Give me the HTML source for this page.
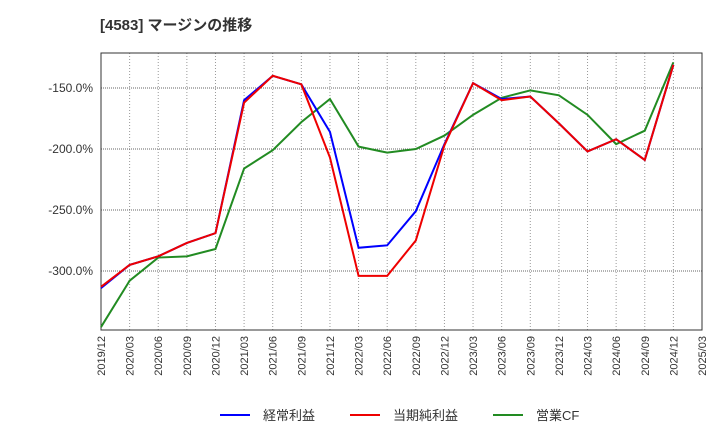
<!DOCTYPE html>
<html><head><meta charset="utf-8"><style>
body{margin:0;background:#fff;font-family:"Liberation Sans","Noto Sans CJK JP",sans-serif}
</style></head><body>
<svg id="c" width="720" height="440" xmlns="http://www.w3.org/2000/svg" style="font-family:'Liberation Sans','Noto Sans CJK JP',sans-serif">
<text x="100" y="30" font-size="15" font-weight="bold" fill="#333">[4583]  マージンの推移</text>
<g id="grid"></g><g id="axes"></g><g id="series"></g>
<g>
<line x1="220" y1="415" x2="250" y2="415" stroke="#0000ff" stroke-width="2"/>
<text x="263" y="420" font-size="13" fill="#333">経常利益</text>
<line x1="350" y1="415" x2="380" y2="415" stroke="#ee0000" stroke-width="2"/>
<text x="393" y="420" font-size="13" fill="#333">当期純利益</text>
<line x1="493" y1="415" x2="523" y2="415" stroke="#228b22" stroke-width="2"/>
<text x="536" y="420" font-size="13" fill="#333">営業CF</text>
</g>
</svg>
<script>
const categories=["2019/12","2020/03","2020/06","2020/09","2020/12","2021/03","2021/06","2021/09","2021/12","2022/03","2022/06","2022/09","2022/12","2023/03","2023/06","2023/09","2023/12","2024/03","2024/06","2024/09","2024/12","2025/03"];
const keijo=[-314,-295,-288,-277,-269,-160,-140,-147,-186,-281,-279,-251,-196,-146,-159,-157,-179,-202,-192,-209,-131];
const junrieki=[-313,-295,-288,-277,-269,-162,-140,-147,-207,-304,-304,-275,-197,-146,-160,-157,-179,-202,-192,-209,-131];
const eigyoCF=[-346,-308,-289,-288,-282,-216,-201,-178,-159,-198,-203,-200,-189,-172,-158,-152,-156,-172,-196,-185,-129];
const yTicks=[-300,-250,-200,-150];
const L=101,R=702,T=53,B=330,yMin=-348.4,yMax=-121.3;
const x=i=>L+i*(R-L)/(categories.length-1);
const y=v=>T+(yMax-v)/(yMax-yMin)*(B-T);
const NS="http://www.w3.org/2000/svg";
function mk(p,t,a){const e=document.createElementNS(NS,t);for(const k in a)e.setAttribute(k,a[k]);p.appendChild(e);return e;}
const g=document.getElementById('grid'),ax=document.getElementById('axes'),s=document.getElementById('series');
categories.forEach((c,i)=>{
 const l=mk(g,'line',{x1:x(i),x2:x(i),y1:T,y2:B,stroke:'#999','stroke-dasharray':'1,2','stroke-width':1});
 
 
 const t=mk(ax,'text',{transform:`translate(${x(i)+4},${B+6}) rotate(-90)`,'font-size':11,fill:'#333','text-anchor':'end'});
 t.textContent=c;
 
 
});
yTicks.forEach(v=>{
 const l=mk(g,'line',{x1:L,x2:R,y1:y(v),y2:y(v),stroke:'#666','stroke-dasharray':'1,1','stroke-width':1});
 
 
 const t=mk(ax,'text',{x:L-8,y:y(v)+4,'font-size':12,fill:'#333','text-anchor':'end'});
 t.textContent=v.toFixed(1)+'%';
 
 
});
const fr=mk(ax,'rect',{x:L,y:T,width:R-L,height:B-T,fill:'none',stroke:'#333','stroke-width':1});


[[eigyoCF,'#228b22','series-eigyo-cf'],[keijo,'#0000ff','series-keijo'],[junrieki,'#ee0000','series-junrieki']].forEach(([d,c,n])=>{
 const p=mk(s,'polyline',{points:d.map((v,i)=>x(i)+','+y(v)).join(' '),fill:'none',stroke:c,'stroke-width':2});
 
 
});
</script>
</body></html>
